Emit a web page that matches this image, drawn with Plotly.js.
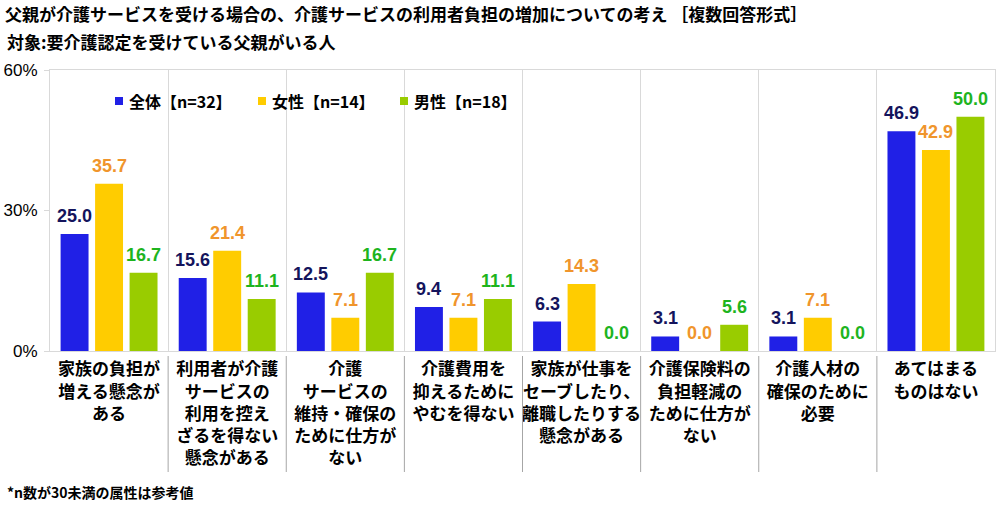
<!DOCTYPE html>
<html>
<head>
<meta charset="utf-8">
<script src="https://cdn.plot.ly/plotly-3.0.1.min.js"></script>
<style>html,body{margin:0;padding:0;background:#fff;}#chart{width:1000px;height:507px;}</style>
</head>
<body>
<div id="chart"></div>
<script>
// ---- data ----
const categories = [
  "家族の負担が<br>増える懸念が<br>ある",
  "利用者が介護<br>サービスの<br>利用を控え<br>ざるを得ない<br>懸念がある",
  "介護<br>サービスの<br>維持・確保の<br>ために仕方が<br>ない",
  "介護費用を<br>抑えるために<br>やむを得ない",
  "家族が仕事を<br>セーブしたり、<br>離職したりする<br>懸念がある",
  "介護保険料の<br>負担軽減の<br>ために仕方が<br>ない",
  "介護人材の<br>確保のために<br>必要",
  "あてはまる<br>ものはない"
];
const seriesNames = ["全体【n=32】", "女性【n=14】", "男性【n=18】"];
const valuesAll    = [25.0, 15.6, 12.5, 9.4, 6.3, 3.1, 3.1, 46.9];
const valuesFemale = [35.7, 21.4, 7.1, 7.1, 14.3, 0.0, 7.1, 42.9];
const valuesMale   = [16.7, 11.1, 16.7, 11.1, 0.0, 5.6, 0.0, 50.0];
const yTickVals = [0, 30, 60];
const yTickText = ["0%", "30%", "60%"];
const titleLine1 = "父親が介護サービスを受ける場合の、介護サービスの利用者負担の増加についての考え ［複数回答形式］";
const titleLine2 = "対象:要介護認定を受けている父親がいる人";
const footnote = "*n数が30未満の属性は参考値";

// ---- styles ----
const barColors   = ["#2020E6", "#FFCC00", "#99CC00"];
const labelColors = ["#14145C", "#F0952C", "#1EB41E"];
const JP = "Noto Sans CJK JP, sans-serif";
const NUM = "Liberation Sans, Arial, sans-serif";

const W = 1000, H = 507;
const M = {l: 50, r: 5, t: 70, b: 156};
const plotW = W - M.l - M.r, plotH = H - M.t - M.b;
const px = x => (x - M.l) / plotW;
const py = y => (H - M.b - y) / plotH;

const bargap = 0.124, bargroupgap = 0.19;
const slot = plotW / categories.length * (1 - bargap) / 3;

const seriesValues = [valuesAll, valuesFemale, valuesMale];
const traces = seriesValues.map((vals, k) => ({
  type: "bar",
  name: seriesNames[k],
  x: categories,
  y: vals,
  marker: {color: barColors[k], line: {width: 0}},
  hoverinfo: "skip",
  showlegend: false
}));

const annotations = [];
seriesValues.forEach((vals, k) => {
  vals.forEach((v, i) => {
    annotations.push({
      xref: "x", yref: "y", x: categories[i], y: v,
      text: v.toFixed(1), showarrow: false,
      xanchor: "center", yanchor: "bottom",
      xshift: (k - 1) * slot, yshift: 6,
      font: {family: NUM, size: 18, color: labelColors[k], weight: "bold"}
    });
  });
});

// legend (custom)
const legendX = [115, 258, 400];
const shapes = [];
shapes.push({type: "rect", xref: "paper", yref: "paper", layer: "between",
  x0: px(105), x1: px(530), y0: py(118), y1: py(80),
  fillcolor: "#ffffff", line: {width: 0}});
seriesNames.forEach((n, k) => {
  shapes.push({type: "rect", xref: "paper", yref: "paper", layer: "above",
    x0: px(legendX[k]), x1: px(legendX[k] + 8), y0: py(105), y1: py(97),
    fillcolor: barColors[k], line: {width: 0}});
  annotations.push({xref: "paper", yref: "paper", x: px(legendX[k] + 12), y: py(101),
    xanchor: "left", yanchor: "middle", showarrow: false, text: n,
    font: {family: JP, size: 16, color: "#000", weight: "bold"}});
});

// separators in label area
for (let i = 0; i < categories.length - 1; i++) {
  shapes.push({type: "line", xref: "x", yref: "paper",
    x0: i + 0.5, x1: i + 0.5, y0: py(356), y1: py(472),
    line: {color: "#A6A6A6", width: 1}});
}

annotations.push({xref: "paper", yref: "paper", x: px(5), y: py(41),
  xanchor: "left", yanchor: "middle", showarrow: false, text: titleLine2,
  font: {family: JP, size: 17, color: "#000", weight: "bold"}});
annotations.push({xref: "paper", yref: "paper", x: px(5), y: py(492),
  xanchor: "left", yanchor: "middle", showarrow: false, text: footnote,
  font: {family: JP, size: 14, color: "#000", weight: "bold"}});

const layout = {
  width: W, height: H,
  margin: M,
  paper_bgcolor: "#fff", plot_bgcolor: "#fff",
  barmode: "group", bargap: bargap, bargroupgap: bargroupgap,
  title: {text: titleLine1, xref: "container", yref: "container",
    x: 5 / W, xanchor: "left", y: 1 - 15 / H, yanchor: "middle",
    font: {family: JP, size: 17, color: "#000", weight: "bold"}},
  xaxis: {
    type: "category", tickson: "boundaries", showgrid: true, gridcolor: "#D9D9D9",
    showline: true, mirror: true, linecolor: "#D9D9D9", linewidth: 1,
    ticks: "", tickangle: 0, automargin: false,
    tickfont: {family: JP, size: 17, color: "#000", weight: "bold"},
    ticklabelstandoff: 3, fixedrange: true
  },
  yaxis: {
    range: [0, 60], tickvals: yTickVals, ticktext: yTickText,
    showgrid: false, zeroline: false,
    showline: true, mirror: true, linecolor: "#D9D9D9", linewidth: 1,
    ticks: "outside", ticklen: 5, tickcolor: "#D9D9D9",
    tickfont: {family: NUM, size: 17, color: "#000"},
    ticklabelstandoff: 3, fixedrange: true, automargin: false
  },
  annotations: annotations,
  shapes: shapes,
  showlegend: false
};

Plotly.newPlot("chart", traces, layout, {displayModeBar: false, staticPlot: true});
</script>
</body>
</html>
